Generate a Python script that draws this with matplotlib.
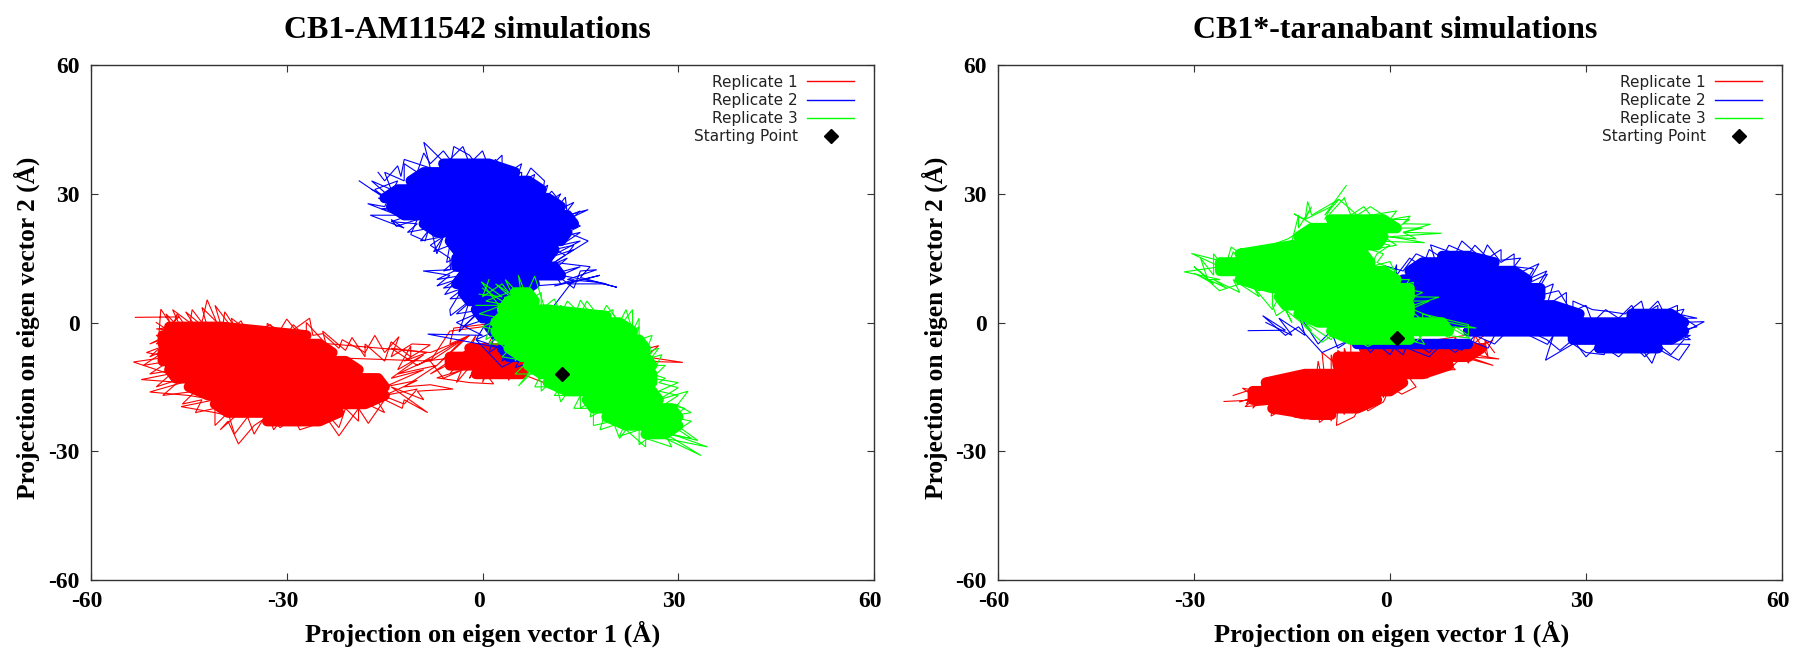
import matplotlib
matplotlib.use("Agg")
import matplotlib.pyplot as plt
from matplotlib.lines import Line2D
from matplotlib.transforms import ScaledTranslation

W, H = 1794, 650
RED, BLUE, GREEN = "#ff0000", "#0000ff", "#00ff00"
SERIF = "Liberation Serif"

ticks = [-60, -30, 0, 30, 60]
tick_labels = ["-60", "-30", "0", "30", "60"]
xlabel = "Projection on eigen vector 1 (Å)"
ylabel = "Projection on eigen vector 2 (Å)"
titles = ["CB1-AM11542 simulations", "CB1*-taranabant simulations"]
series_labels = ["Replicate 1", "Replicate 2", "Replicate 3"]
start_label = "Starting Point"
start_a = (12.2, -12.0)
start_b = (1.1, -3.5)

# --- left panel: edge of each trajectory cloud
a_red_edge = [(-53.2,1.2),(-46.5,1.3),(-49.6,-3),(-49.3,3.1),(-47.5,-1),(-46.8,2),(-45,-2),(-44.5,3),(-43,0),(-42.2,5.3),(-41,1),(-40,-3),(-39.5,2.5),(-38,-1),(-37,0.4),(-36,-3),(-34,-1.5),(-32.5,-0.5),(-31.5,-3),(-30,0.8),(-28.8,-1.5),(-26.5,1),(-26,-3),(-24.5,-2.6),(-22,-6),(-21.5,-4),(-18,-7),(-16.5,-3),(-15,-7),(-12.8,-3.3),(-14,-8),(-10.8,-5),(-8,-5.2),(-12,-9),(-8.5,-7),(-14,-6),(-10,-10),(-8,-8.5),(-13,-12),(-7,-10),(-12,-15),(-8,-14.5),(-4.5,-15.5),(-10,-16),(-9,-18),(-14,-15),(-8.4,-21),(-12,-18),(-12.3,-20),(-15,-18),(-17.5,-23.5),(-19,-20),(-22,-26.4),(-24,-22),(-26,-24),(-28,-25),(-29,-22),(-31,-24.5),(-33,-22),(-35,-24),(-37.4,-28.3),(-39,-23),(-40.2,-25),(-38,-22),(-41,-21),(-46.2,-19.6),(-41,-18),(-45,-17),(-51,-16.2),(-46,-14),(-52.3,-13.3),(-48,-12),(-53.5,-9.2),(-48,-8),(-51.5,-7),(-48,-5),(-50,-3),(-47,-2),(-51,-5),(-44,-1),(-46,-7),(-8,-9),(-5,-2),(0,-1),(1,-0.3),(-4.4,-1.3),(-5,-5),(-2,-3),(-8,-9),(-6,-13),(-3,-11),(-7,-12.9),(-2,-14),(1.7,-14.3),(0,-11),(4,-13),(6,-12),(12.3,-15.7),(10,-13),(20,-8),(27,-5.4),(25,-8),(30.7,-9.3),(24,-9)]
a_red_mesh = [(-50,0),(-47,-3),(-48.5,2),(-46,-2),(-47.5,3),(-44,-1),(-45.5,2.5),(-42,-2),(-43,3.5),(-40,-1),(-41,4),(-38,-2),(-38.5,1),(-35,-3),(-36.5,-0.5),(-33,-3),(-33,-0.2),(-30,-3),(-29,-0.5),(-27,-3.5),(-27,0),(-24,-5),(-24.5,-2),(-21,-6.5),(-20,-3.5),(-18,-8),(-18,-5),(-15,-9),(-14,-4.5),(-11,-8),(-11,-5.5),(-13,-11),(-9,-7.5),(-14,-13),(-9,-11),(-15,-15),(-10,-13.5),(-15,-17),(-10,-15.5),(-12,-19),(-17,-16),(-15,-21),(-19,-18),(-19,-23),(-21,-20),(-22,-24.5),(-24,-21),(-25,-24),(-27,-21),(-29,-24),(-30,-21),(-32,-25),(-33,-21),(-35,-26),(-36,-22),(-38,-26),(-39,-21),(-41,-24),(-41,-20),(-44,-21),(-43,-18),(-46,-19),(-44,-16),(-49,-17),(-46,-13),(-50,-15),(-47,-11),(-51,-12),(-48,-9),(-52,-10),(-48,-6),(-51,-8),(-48,-4),(-50,-5),(-47,-1),(-50,-1.5),(-8,-7),(-3,-4),(-7,-10),(-2,-3),(-9,-9),(-3,-8),(-8,-12),(-2,-6),(-5,-12),(-1,-3),(-4,-14),(1,-5),(-2,-13),(2,-2),(0,-14),(3,-4),(2,-13),(4,-2),(4,-13.5),(6,-5),(6,-13)]
a_blue_edge = [(-18.9,33),(-15,29),(-16.5,31),(-13,33),(-15,27),(-17.6,27.7),(-13,25),(-17.2,25),(-12,22),(-14,24),(-13.2,22.4),(-10,24),(-11,20.5),(-8.8,19),(-8,23),(-7,16),(-6,20),(-8,18),(-5,15),(-4.9,12.3),(-9.1,12),(-5,11),(-7,8.5),(-4,10),(-5.8,6.5),(-3,8),(-5,3),(-4.9,1.6),(-2,5),(-3.6,-2.2),(-1,2),(-4,0),(0,-3),(-8.4,-2.7),(3,-6),(-1,-4),(3,-10.4),(6,-8),(5,-10.5),(8,-9),(6,-5),(7,8.4),(12,9),(11,11.5),(14,8),(15,12),(17.5,12.3),(13,10),(17.5,9.4),(20.6,8.2),(15,10.5),(16.5,13),(11,14),(12.7,15.7),(11,17),(14,18),(13,16),(16.2,19),(13,21),(15,22.5),(13,24),(16.2,26.3),(13,25),(12.7,29.2),(11,26),(12,28),(10.6,30.6),(9,28),(9.5,33),(7.4,36),(6,32),(6,35),(4,34),(2,38),(0,35),(-2,39),(-4.4,41),(-5,36),(-7,39),(-9,42),(-8,36),(-12,38),(-12.5,34),(-13,36.5),(-15,33),(-16,35)]
a_blue_mesh = [(-17,31),(-13,28),(-16,29),(-12,27),(-15.5,26.5),(-11,25),(-14,23.5),(-10,23),(-11.5,21),(-8,22),(-9.5,19),(-6,20),(-7.5,16.5),(-5,18),(-5.5,14),(-3,16),(-6,12),(-3,13),(-7,10),(-3,11),(-6,8),(-2,9),(-5,5.5),(-1,6),(-4,2),(0,3),(-3,-1),(1,1),(-1,-4),(2,-2),(1,-7),(4,-4),(3,-9),(6,-6),(14,10),(11,8.5),(18,11),(13,9),(19,9),(12,11),(15,13),(10,11),(13,15),(10,13),(14,17),(10,15),(15,19),(12,18),(15,21),(12,20),(14.5,24),(12,22),(15,26),(12,24),(14,28),(10,25),(12,30),(9,27),(10,32),(7,29),(8,34.5),(5,32),(6,37),(3,34),(3,39),(1,36),(0,40),(-2,37),(-3,41),(-5,38),(-6,40),(-8,37),(-9,39.5),(-10,35),(-12,37),(-12,33),(-15,35),(-14,31),(-17,33),(-14,29)]
a_green_edge = [(-0.5,6.6),(3,6),(-0.2,9.5),(3,3),(3.5,6),(2,-2),(1.5,1),(0.5,-4),(4,-1),(3.5,-6),(2,-4),(6,-4),(5,-9),(7,-5),(7,-12),(5.5,-14.8),(8,-11),(9,-14),(9,-16),(11,-13),(12,-18.5),(14,-14),(15,-17),(15,-20),(17,-18),(16.5,-22),(19,-20),(18,-25),(22,-23),(21,-26.5),(24,-25),(24,-28.5),(27,-25),(33.5,-31),(28,-27),(34.5,-29),(29,-26),(33,-27.5),(28,-22),(32,-21),(29.5,-19),(28,-23),(31.5,-16),(27,-18),(30,-15.2),(27,-14),(28,-13),(26,-12),(27.5,-7.5),(24,-9),(26,-7),(23,-6),(24,-1),(22,-3),(23,-0.5),(23,3),(21,-1),(20,2),(20,3),(17,1),(15,5.2),(14,1),(12,4),(10,1),(8,10.8),(6,4),(7,8),(4.5,6),(3,9),(0,6),(1,10)]
a_green_mesh = [(0,8),(4,4),(0.5,5),(4,7),(2,9),(5,5),(3.5,10),(6,6),(5.5,11),(7,5),(9,7),(9,3),(11,5.5),(12,2),(13,5),(15,2),(16,5),(18,1),(19,4),(21,0),(22,3),(23,-2),(24,1),(24,-4),(26,-3),(25,-7),(27,-6),(25,-10),(28,-10),(26,-13),(30,-14),(27,-16),(30,-17),(28,-19),(31,-20),(29,-22),(32,-23),(30,-25),(32,-27),(28,-26),(29,-29),(25,-27),(25,-29),(22,-25),(21,-27),(20,-23),(17,-24),(17,-20),(14,-20),(15,-17),(11,-17),(12,-15),(8,-15),(9,-12),(5,-12),(7,-9),(3,-8),(5,-5),(1,-5),(3,-2),(0,-1),(3,1),(-0.5,2),(3,4),(-1,4)]
# --- left panel: fully overplotted interior, one sweep per scan row
a_red_core = [(-48,-1),(-40,-1),(-27,-3),(-49,-3),(-49,-5),(-25,-5),(-23,-7),(-49,-7),(-49,-9),(-21,-9),(-19,-11),(-48,-11),(-47,-13),(-16,-13),(-15,-15),(-45,-15),(-42,-17),(-15,-17),(-18,-19),(-41,-19),(-39,-21),(-22,-21),(-25,-23),(-33,-23)]
a_red_core2 = [(-2,-6),(3,-6),(5,-8),(-5,-8),(-5,-10),(7,-10),(6,-12),(-1,-12)]
a_blue_core = [(-6,37),(1,37),(5,35),(-9,35),(-11,33),(7,33),(9,31),(-13,31),(-15,29),(10,29),(12,27),(-14,27),(-12,25),(13,25),(14,23),(-9,23),(-7,21),(13,21),(12,19),(-5,19),(-4,17),(11,17),(10,15),(-4,15),(-4,13),(11,13),(12,11),(-3,11),(-4,9),(8,9),(6,7),(-3,7),(-2,5),(5,5),(4,3),(-1,3),(0,1),(4,1),(4,-1),(1,-1),(2,-3),(5,-3),(7,-6),(3,-6),(4,-8),(8,-8)]
a_green_core = [(5,7),(7,7),(8,5),(4,5),(3,3),(10,3),(19,1.5),(3,1.5),(2,0),(21,0),(23,-2),(2,-2),(3,-4),(24,-4),(25,-6),(4,-6),(6,-8),(25,-8),(26,-10),(7,-10),(9,-12),(26,-12),(26,-14),(10,-14),(13,-16),(26,-16),(27,-18),(16,-18),(17,-20),(29,-20),(30,-22),(19,-22),(22,-24),(30,-24),(28,-26),(25,-26)]

# --- right panel
b_red_edge = [(-25.4,-18.4),(-20,-18),(-22.6,-15.3),(-20,-16),(-18.2,-12.9),(-17,-14.5),(-14,-12.5),(-14,-15),(-12.1,-11.4),(-10,-13),(-10.4,-7),(-8,-10),(-8,-6.5),(-6,-9),(-6,-5.1),(-2,-6),(3,-5),(15,-2.2),(12,-6),(15.8,-4.2),(11,-7),(16.7,-8.5),(12,-8),(15.8,-10),(11,-8),(9.7,-10),(8,-8),(10,-11),(6,-11),(5.8,-12.9),(3,-13),(4,-15),(1.8,-16.7),(0,-15),(-1,-18.5),(-3.4,-20.6),(-4,-18),(-5.5,-22),(-8.2,-24),(-8,-20),(-10.8,-23.3),(-11,-20),(-13,-22.5),(-14.7,-22),(-15,-19),(-18.2,-21.8),(-18,-19),(-22.2,-19.6),(-20,-17),(-23,-18.5)]
b_red_mesh = [(-24,-17),(-20,-15),(-22,-19),(-19,-13.5),(-21,-20),(-17,-13),(-18,-21),(-15,-12),(-15,-21.5),(-13,-11.5),(-12,-22.5),(-11,-9),(-9,-23),(-9,-7.5),(-7,-21.5),(-7,-6),(-4,-19.5),(-4,-5.5),(-1,-17.5),(0,-5),(2,-15),(3,-4.5),(5,-12.5),(6,-4),(8,-10.5),(10,-3.5),(12,-9.5),(13,-3),(15,-8),(14.5,-4),(16,-7)]
b_blue_edge = [(-21.7,-1.9),(-16,-1.8),(-19.5,1.6),(-16,-3),(-14,-1),(-10.4,-7),(-6,-4),(-4,-6),(-2,-5),(0,-7.5),(1,-5),(6,-8),(8,-5),(10,-7),(12,-4),(15,-6),(16,-3),(20,-2),(22,-3),(20.2,-2.2),(24.1,-5.1),(25,-3),(23.8,-8.8),(28,-5),(30,-7),(32.8,-7.5),(33,-5),(36,-7),(38,-5),(40.1,-9.5),(41,-6),(42,-7),(44.2,-8.8),(45.9,-5.1),(43,-5),(46,-3),(44,-3),(48.1,0.2),(44,0),(45,3.1),(42,2),(41,5),(39,2),(38.5,5),(36,2),(33.3,2.6),(31,3),(28,5),(28,2),(25.8,7.4),(22,6),(24.1,11.3),(21,9),(22.8,13.7),(19,11),(19,16),(17,14),(14.9,18.1),(14,15),(11,19),(10,16),(6.2,18.1),(7,14),(4,16),(2,12),(-0.8,13.2),(1,9),(-1,11)]
b_blue_mesh = [(-19,0),(-15,-3),(-17,1),(-13,-3),(-14,2),(-11,-5),(-9,-2),(-8,-6),(-5,-3),(-3,-7),(-1,-4),(2,-7.5),(3,-4),(6,-7),(8,-4),(11,-6.5),(13,-3),(16,-5),(18,-2),(22,-2.5),(24,-4),(26,-6.5),(28,-4),(30,-8),(32,-5),(35,-8),(37,-5),(39,-8),(41,-5),(43,-7.5),(45,-4),(46,-4),(44,-2),(47,-1),(45,1),(47,1),(44,2),(44,4),(41,2),(41,4),(38,1),(37,4),(35,1),(33,3),(31,0),(30,4),(27,2),(27,7),(24,4),(25,9),(22,7),(24,12),(21,10),(22,12.5),(19,13),(20,15),(17,14.5),(17,17),(15,15),(13,18),(12,16),(9,18),(8,15),(6,17),(5,13),(3,15),(1,11),(1,13.5),(0,8)]
b_green_edge = [(-6.7,31.9),(-10,25),(-7.8,28.7),(-12,25),(-12.6,28.2),(-13,24),(-14.7,25.3),(-12,23),(-15.6,19.5),(-20,17),(-22,15),(-24.3,17.6),(-25,14),(-30.4,16.1),(-26,13),(-31.5,11.8),(-26,10),(-28,10),(-26.1,7.4),(-23,9),(-20,7.4),(-18,9),(-18,4),(-17.4,1.6),(-15,4),(-13,-1),(-10.4,-4.6),(-8,-2),(-3.4,-5.6),(0,-3),(5.3,-5.1),(4,-2),(12.3,-3.7),(9,-1),(13.2,-1.3),(6,1),(9,-0.5),(2.7,3.6),(7.5,5.9),(3,6),(3.6,9.4),(0,8),(1,11),(0,14.2),(-3,13),(-2,16),(0,18),(-3,19),(5.3,18.6),(0,20),(7.9,20.8),(2,21),(6.2,22.9),(2,23),(3.1,24.8),(0,24),(-3,27),(-5,25),(-7.8,28.7)]
b_green_mesh = [(-7,29),(-10,24),(-9,27),(-13,24),(-12,27),(-14,22),(-14,25),(-15,19),(-18,17),(-19,14),(-21,17),(-22,13),(-24,16.5),(-25,12),(-27,16),(-27,11),(-29,15),(-28,10.5),(-30,13),(-27,9),(-30,11.5),(-25,8),(-27,10),(-23,7),(-24,10),(-20,6),(-21,8.5),(-18,3),(-17,6),(-15,0),(-16,3),(-12,-2),(-13,0),(-9,-4),(-8,-1),(-5,-5),(-3,-2),(0,-5),(1,-2),(4,-4.5),(6,-1),(9,-3.5),(10,-1),(12,-3),(12,-0.5),(5,2),(5,0.5),(3,3),(6,5),(2,5),(5,7),(2,8),(3,10),(0,10),(1,12),(-2,14),(-1,16),(-3,17),(1,18),(-1,20),(4,19.5),(2,21),(5,22),(1,22),(3,24),(0,24),(1,26),(-3,25),(-4,27),(-6,25),(-7,29)]
b_red_core = [(-4,-6),(14,-6),(12,-8),(-8,-8),(-8,-10),(9,-10),(5,-12),(-13,-12),(-19,-14),(2,-14),(0,-16),(-21,-16),(-21,-18),(-2,-18),(-5,-20),(-18,-20),(-12,-21.5),(-9,-21.5)]
b_blue_core = [(8,15.5),(12,15.5),(16,14),(5,14),(3,12),(19,12),(21,10),(2,10),(2,8),(23,8),(23,6),(0,6),(0,4),(25,4),(29,2),(0,2),(0,0),(45,0),(43,2),(37,2),(37,-2),(45,-2),(43,-4),(28,-4),(28,-2),(12,-2),(36,-2),(32,-6),(41,-6)]
b_blue_core2 = [(-5,-5),(12,-5)]
b_green_core = [(-9,24),(-1,24),(1,22),(-12,22),(-14,20),(-1,20),(-2,18),(-15,18),(-23,16),(-4,16),(-3,14),(-26,14),(-26,12),(-1,12),(1,10),(-23,10),(-18,8),(3,8),(3,6),(-17,6),(-16,4),(3,4),(3,2),(-14,2),(-11,0),(8,0),(9,-2),(-9,-2),(-6,-4),(3,-4)]

panels = [
    dict(rect=(91, 874), title=titles[0], start=start_a, title_x=467, xlab_x=483, ylab_x=27,
         paths=[(a_red_edge, a_red_mesh, [a_red_core, a_red_core2], RED), (a_blue_edge, a_blue_mesh, [a_blue_core], BLUE), (a_green_edge, a_green_mesh, [a_green_core], GREEN)]),
    dict(rect=(998, 1782), title=titles[1], start=start_b, title_x=1395, xlab_x=1392, ylab_x=935,
         paths=[(b_red_edge, b_red_mesh, [b_red_core], RED), (b_blue_edge, b_blue_mesh, [b_blue_core, b_blue_core2], BLUE), (b_green_edge, b_green_mesh, [b_green_core], GREEN)]),
]

fig = plt.figure(figsize=(W / 100, H / 100), dpi=100, facecolor="white")
TOP, BOT = 65, 580
for p in panels:
    x0, x1 = p["rect"]
    ax = fig.add_axes([x0 / W, 1 - BOT / H, (x1 - x0) / W, (BOT - TOP) / H])
    ax.set_xlim(-60, 60)
    ax.set_ylim(-60, 60)
    ax.set_xticks(ticks, tick_labels)
    ax.set_yticks(ticks, tick_labels)
    ax.tick_params(direction="in", top=True, right=True, length=5, width=0.8, color="#333333", pad=8)
    for s in ax.spines.values():
        s.set_color("#333333")
        s.set_linewidth(1.0)
    for t in ax.get_xticklabels() + ax.get_yticklabels():
        t.set_fontfamily(SERIF)
        t.set_fontweight("bold")
        t.set_fontsize(17)
    for t in ax.get_xticklabels():
        t.set_transform(t.get_transform() + ScaledTranslation(-4 / 100, 0, fig.dpi_scale_trans))
    for edge, mesh, cores, col in p["paths"]:
        ax.plot(*zip(*edge), color=col, lw=0.8, solid_joinstyle="miter")
        ax.plot(*zip(*mesh), color=col, lw=0.8, solid_joinstyle="miter")
        for c in cores:
            ax.plot(*zip(*c), color=col, lw=7.5, solid_joinstyle="round", solid_capstyle="round")
    ax.plot([p["start"][0]], [p["start"][1]], marker="D", color="black", ms=7.5, ls="none", zorder=5)
    handles = [Line2D([], [], color=c, lw=1.0) for c in (RED, BLUE, GREEN)]
    handles.append(Line2D([], [], marker="D", color="black", ms=7, ls="none"))
    leg = ax.legend(handles, series_labels + [start_label], loc="upper right", frameon=False,
                    markerfirst=False, alignment="right", fontsize=11, handlelength=3.1,
                    handletextpad=0.6, labelspacing=0.21, borderaxespad=0.4, borderpad=0.3,
                    bbox_to_anchor=(1 - 9 / (x1 - x0), 1.002))
    for t in leg.get_texts():
        t.set_color("#222222")
    ax.set_title(p["title"], fontfamily=SERIF, fontweight="bold", fontsize=23,
                 x=(p["title_x"] - x0) / (x1 - x0), y=1 + (TOP - 38) / (BOT - TOP), pad=0)
    ax.set_xlabel(xlabel, fontfamily=SERIF, fontweight="bold", fontsize=19)
    ax.xaxis.set_label_coords((p["xlab_x"] - x0) / (x1 - x0), -(634 - BOT) / (BOT - TOP))
    ax.xaxis.label.set_verticalalignment("center")
    ax.set_ylabel(ylabel, fontfamily=SERIF, fontweight="bold", fontsize=18.3)
    ax.yaxis.set_label_coords((p["ylab_x"] - x0) / (x1 - x0), (BOT - 328) / (BOT - TOP))
    ax.yaxis.label.set_verticalalignment("center")

fig.savefig("out.png", dpi=100)
